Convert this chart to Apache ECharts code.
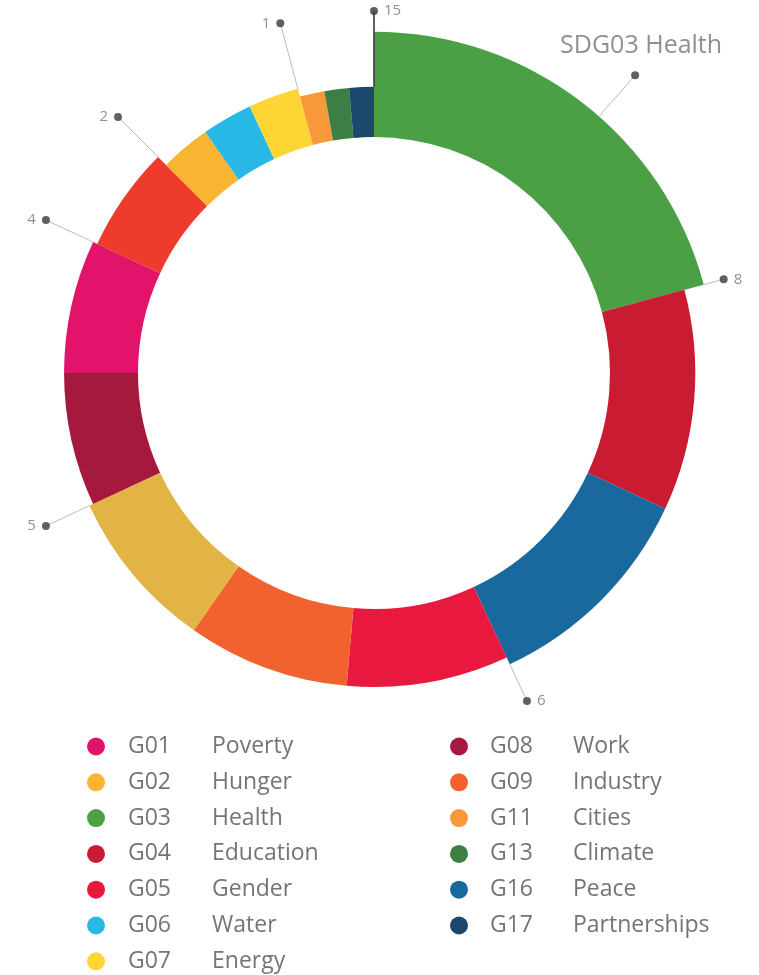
<!DOCTYPE html>
<html><head><meta charset="utf-8">
<script src="https://cdn.jsdelivr.net/npm/echarts@6/dist/echarts.min.js"></script>
<style>html,body{margin:0;padding:0;background:#fff}#c{width:759px;height:975px}</style>
</head><body><div id="c"></div>
<script>
// ---- data ----
const ringCodes  = ['G03','G04','G16','G05','G09','X12','G08','G01','X10','G02','G06','G07','G11','G13','G17'];
const ringValues = [15, 8, 8, 6, 6, 6, 5, 5, 4, 2, 2, 2, 1, 1, 1];
const ringColors = ['#4ba046','#c91c32','#19699f','#e8183f','#f1622f','#e2b345','#a6193f','#e1136b',
                    '#ee3b2b','#f9b532','#27b8e5','#fdd535','#f7983a','#3d7e45','#1b486c'];
const legendLeftCodes  = ['G01','G02','G03','G04','G05','G06','G07'];
const legendLeftNames  = ['Poverty','Hunger','Health','Education','Gender','Water','Energy'];
const legendRightCodes = ['G08','G09','G11','G13','G16','G17'];
const legendRightNames = ['Work','Industry','Cities','Climate','Peace','Partnerships'];

// ---- layout ----
const CX = 374, CY = 373, R_AXIS = 400, R_IN = 236, R_DOT = 362, R_CALLOUT = 396, CALLOUT_FRAC = 0.55;
const FONT = "'Open Sans', sans-serif";
const TEXT_COLOR = '#747474';
function outerR(v) { return 267 + 19.2 * Math.sqrt(v); }

const desc = {};
legendLeftCodes.forEach((c, i) => desc[c] = legendLeftNames[i]);
legendRightCodes.forEach((c, i) => desc[c] = legendRightNames[i]);

const n = ringValues.length;
const total = ringValues.reduce((a, b) => a + b, 0);
const starts = [];
let acc = 0;
ringValues.forEach(v => { starts.push(acc); acc += v; });

function renderSlice(params, api) {
  const cs = params.coordSys;
  const a = api.value(0), b = api.value(1), v = api.value(2);
  const p0 = api.coord([outerR(v), a]), p1 = api.coord([outerR(v), b]);
  const pin = api.coord([R_IN, a]);
  const ro = Math.hypot(p0[0] - cs.cx, p0[1] - cs.cy);
  const ri = Math.hypot(pin[0] - cs.cx, pin[1] - cs.cy);
  let t0 = Math.atan2(p0[1] - cs.cy, p0[0] - cs.cx);
  let t1 = Math.atan2(p1[1] - cs.cy, p1[0] - cs.cx);
  while (t1 <= t0) t1 += 2 * Math.PI;
  return { type: 'sector',
    shape: { cx: cs.cx, cy: cs.cy, r0: ri, r: ro, startAngle: t0, endAngle: t1, clockwise: true },
    style: { fill: api.visual('color') } };
}

const sliceSeries = ringCodes.map((code, i) => ({
  type: 'custom', name: code, coordinateSystem: 'polar', renderItem: renderSlice,
  itemStyle: { color: ringColors[i] }, silent: true,
  data: [[starts[i], starts[i] + ringValues[i], ringValues[i]]]
}));

// group markers: at the start of each run of equal values
const leaderData = [];
const dotData = [];
ringValues.forEach((v, i) => {
  if (i === 0 || v !== ringValues[i - 1]) {
    const prev = ringValues[(i - 1 + n) % n];
    leaderData.push({ value: [starts[i], outerR(prev), R_DOT, i === 0 ? 1 : 0] });
    const leftSide = starts[i] > total / 2;
    dotData.push({ value: [R_DOT, starts[i]], labelText: String(v),
      label: { position: leftSide ? 'left' : 'right', distance: 6,
               fontSize: 15, color: TEXT_COLOR, fontFamily: FONT } });
  }
});
// callout for the largest slice
let maxI = 0;
ringValues.forEach((v, i) => { if (v > ringValues[maxI]) maxI = i; });
const calloutAngle = starts[maxI] + ringValues[maxI] * CALLOUT_FRAC;
leaderData.push({ value: [calloutAngle, outerR(ringValues[maxI]), R_CALLOUT, 0] });
dotData.push({ value: [R_CALLOUT, calloutAngle], labelText: 'SD' + ringCodes[maxI] + ' ' + desc[ringCodes[maxI]],
  label: { position: 'top', distance: 13, offset: [6, 0], fontSize: 25, color: TEXT_COLOR, fontFamily: FONT } });

function renderLeader(params, api) {
  const ang = api.value(0), r1 = api.value(1), r2 = api.value(2), dark = api.value(3);
  const p1 = api.coord([r1, ang]), p2 = api.coord([r2, ang]);
  return { type: 'line', shape: { x1: p1[0], y1: p1[1], x2: p2[0], y2: p2[1] },
    style: { stroke: dark ? '#3a3a3a' : '#bcbcbc', lineWidth: dark ? 1.6 : 1 } };
}

function legendCfg(codes, left, gap, codeW) {
  const font = { fontSize: 23, color: TEXT_COLOR, fontFamily: FONT, lineHeight: 22 };
  return {
    orient: 'vertical', left: left, top: 735, height: 400, padding: 0,
    icon: 'circle', itemWidth: 18, itemHeight: 18,
    itemGap: 12.8, selectedMode: false, data: codes,
    formatter: name => '{g| }{c|' + name + '}{n|' + desc[name] + '}',
    textStyle: Object.assign({}, font, { rich: {
      g: Object.assign({}, font, { width: gap }),
      c: Object.assign({}, font, { width: codeW }),
      n: Object.assign({}, font)
    } })
  };
}

const chart = echarts.init(document.getElementById('c'), null, { renderer: 'canvas' });
chart.setOption({
  animation: false,
  backgroundColor: '#ffffff',
  polar: { center: [CX, CY], radius: [0, R_AXIS] },
  angleAxis: { type: 'value', min: 0, max: total, startAngle: 90, clockwise: true, show: false },
  radiusAxis: { type: 'value', min: 0, max: R_AXIS, show: false },
  legend: [ legendCfg(legendLeftCodes, 87, 18, 84), legendCfg(legendRightCodes, 450, 17, 83) ],
  series: sliceSeries.concat([
    { type: 'custom', name: 'leaders', coordinateSystem: 'polar', renderItem: renderLeader,
      silent: true, z: 3, data: leaderData },
    { type: 'scatter', name: 'markers', coordinateSystem: 'polar', symbol: 'circle', symbolSize: 8,
      itemStyle: { color: '#3a3a3a' }, silent: true, z: 4, data: dotData,
      label: { show: true, formatter: p => p.data.labelText } }
  ])
});
</script></body></html>
